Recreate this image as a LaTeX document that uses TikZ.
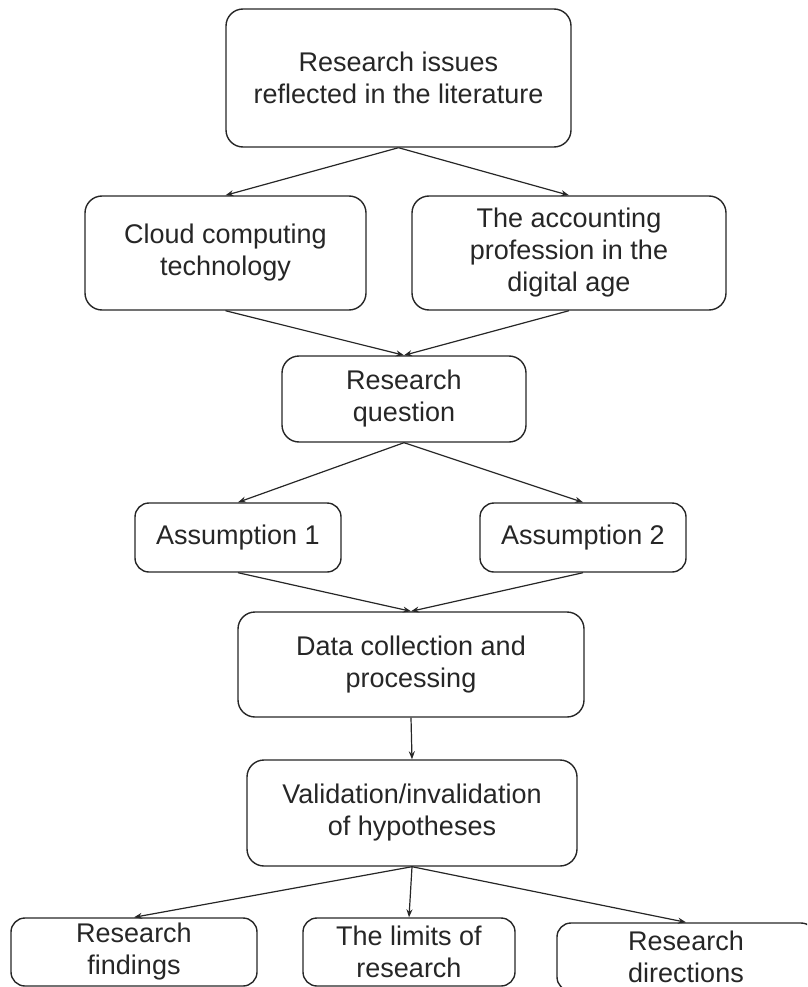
\documentclass[tikz,border=0pt]{standalone}
\usepackage{fontspec}
\setmainfont{Liberation Sans}
\usetikzlibrary{arrows.meta}
\begin{document}
\begin{tikzpicture}[x=1pt,y=-1pt,
  box/.style={draw=black!85, line width=1.4pt, rounded corners=17pt, align=center,
    font=\fontsize{27}{32}\selectfont, inner sep=0pt, text=black!85},
  arr/.style={draw=black!85, line width=1.2pt, -{Stealth[length=8pt,width=6pt]}}]
\useasboundingbox (0,0) rectangle (807,987);
\clip (0,0) rectangle (807,987);
\node[box, minimum width=345pt, minimum height=138pt] (lit) at (398.5,78) {Research issues\\reflected in the literature};
\node[box, minimum width=281pt, minimum height=114pt] (cloud) at (225.5,253) {Cloud computing\\technology};
\node[box, minimum width=314pt, minimum height=114pt] (acc) at (569,253) {The accounting\\profession in the\\digital age};
\node[box, minimum width=244pt, minimum height=86pt] (rq) at (404,399) {Research\\question};
\node[box, minimum width=206pt, minimum height=69pt, rounded corners=14pt] (a1) at (238,537.5) {Assumption 1};
\node[box, minimum width=206pt, minimum height=69pt, rounded corners=14pt] (a2) at (583,537.5) {Assumption 2};
\node[box, minimum width=346pt, minimum height=105pt] (data) at (411,664.5) {Data collection and\\processing};
\node[box, minimum width=330pt, minimum height=106pt] (val) at (412,813) {Validation/invalidation\\of hypotheses};
\node[box, minimum width=246pt, minimum height=68pt, rounded corners=14pt] (find) at (134,952) {Research\\findings};
\node[box, minimum width=212pt, minimum height=68pt, rounded corners=14pt] (lim) at (409,952) {The limits of\\research};
\node[box, minimum width=258pt, minimum height=68pt, rounded corners=14pt] (dir) at (686,957) {Research\\directions};
\draw[arr] (lit.south) -- (cloud.north);
\draw[arr] (lit.south) -- (acc.north);
\draw[arr] (cloud.south) -- (rq.north);
\draw[arr] (acc.south) -- (rq.north);
\draw[arr] (rq.south) -- (a1.north);
\draw[arr] (rq.south) -- (a2.north);
\draw[arr] (a1.south) -- (data.north);
\draw[arr] (a2.south) -- (data.north);
\draw[arr] (data.south) -- (val.north);
\draw[arr] (val.south) -- (find.north);
\draw[arr] (val.south) -- (lim.north);
\draw[arr] (val.south) -- (dir.north);
\end{tikzpicture}
\end{document}
